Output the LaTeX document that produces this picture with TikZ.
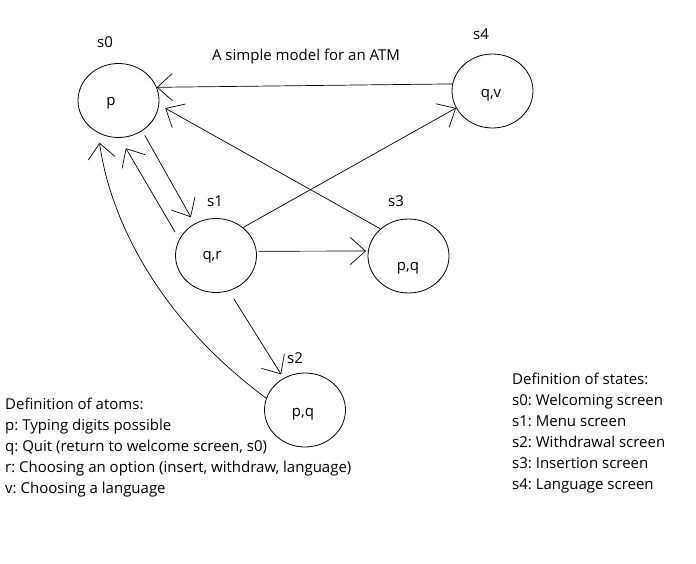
\documentclass[tikz,border=0pt]{standalone}
\usepackage{fontspec}
\setmainfont{Open Sans}
\usetikzlibrary{shapes.geometric,arrows.meta}
\begin{document}
\frenchspacing
\begin{tikzpicture}[x=1pt,y=-1pt,
  state/.style={draw,ellipse,line width=0.8pt,inner sep=0pt,minimum width=81pt,minimum height=74pt},
  lbl/.style={font=\fontsize{15}{17}\selectfont,inner sep=0pt},
  txt/.style={font=\fontsize{15}{17}\selectfont,inner sep=0pt,anchor=base west},
  edge/.style={line width=0.7pt,-{Straight Barb[length=15pt,width=27pt,line width=0.7pt]}}]
\useasboundingbox (0,0) rectangle (696,564);
\node[state] (s0) at (118.5,100.5) {};
\node[state] (s4) at (492.5,91) {};
\node[state] (s1) at (216,255.5) {};
\node[state] (s3) at (408.5,256) {};
\node[state] (s2) at (305,410) {};
\node[lbl] (t0) at (111,103) {p};
\node[lbl] (t4) at (491,95) {q,v};
\node[lbl] (t1) at (212,257) {q,r};
\node[lbl] (t3) at (408,268) {p,q};
\node[lbl] (t2) at (303,414) {p,q};
\node[lbl] (l0) at (105,42) {s0};
\node[lbl] (l4) at (481,34) {s4};
\node[lbl] (l1) at (215,201) {s1};
\node[lbl] (l3) at (396,201) {s3};
\node[lbl] (l2) at (295,358) {s2};
\node[lbl] (title) at (306,57) {A simple model for an ATM};
\draw[edge] (s4.170) -- (s0.19);
\draw[edge,shorten >=7pt] (s3.136.5) -- (s0.-6);
\draw[edge] (s1.46.5) -- (s4.205.6);
\draw[edge,shorten <=5pt,shorten >=7.5pt] (s0.-52.6) -- (s1.124.5);
\draw[edge,shorten <=8pt,shorten >=12pt] (s1.156) -- (s0.-88);
\draw[edge,shorten <=2pt,shorten >=2pt] (s1.6) -- (s3.173);
\draw[edge,shorten <=9pt,shorten >=4.5pt] (s1.-70.7) -- (s2.124.7);
\draw[edge,shorten >=10pt] (s2.163) .. controls (160,320) and (110,220) .. (s0.238.4);
\node[txt] (a0) at (5,409) {Definition of atoms:};
\node[txt] (a1) at (5,430) {p: Typing digits possible};
\node[txt] (a2) at (5,451) {q: Quit (return to welcome screen, s0)};
\node[txt] (a3) at (5,472) {r: Choosing an option (insert, withdraw, language)};
\node[txt] (a4) at (5,493) {v: Choosing a language};
\node[txt] (b0) at (512,384) {Definition of states:};
\node[txt] (b1) at (512,405) {s0: Welcoming screen};
\node[txt] (b2) at (512,426) {s1: Menu screen};
\node[txt] (b3) at (512,447) {s2: Withdrawal screen};
\node[txt] (b4) at (512,468) {s3: Insertion screen};
\node[txt] (b5) at (512,489) {s4: Language screen};
\end{tikzpicture}
\end{document}
